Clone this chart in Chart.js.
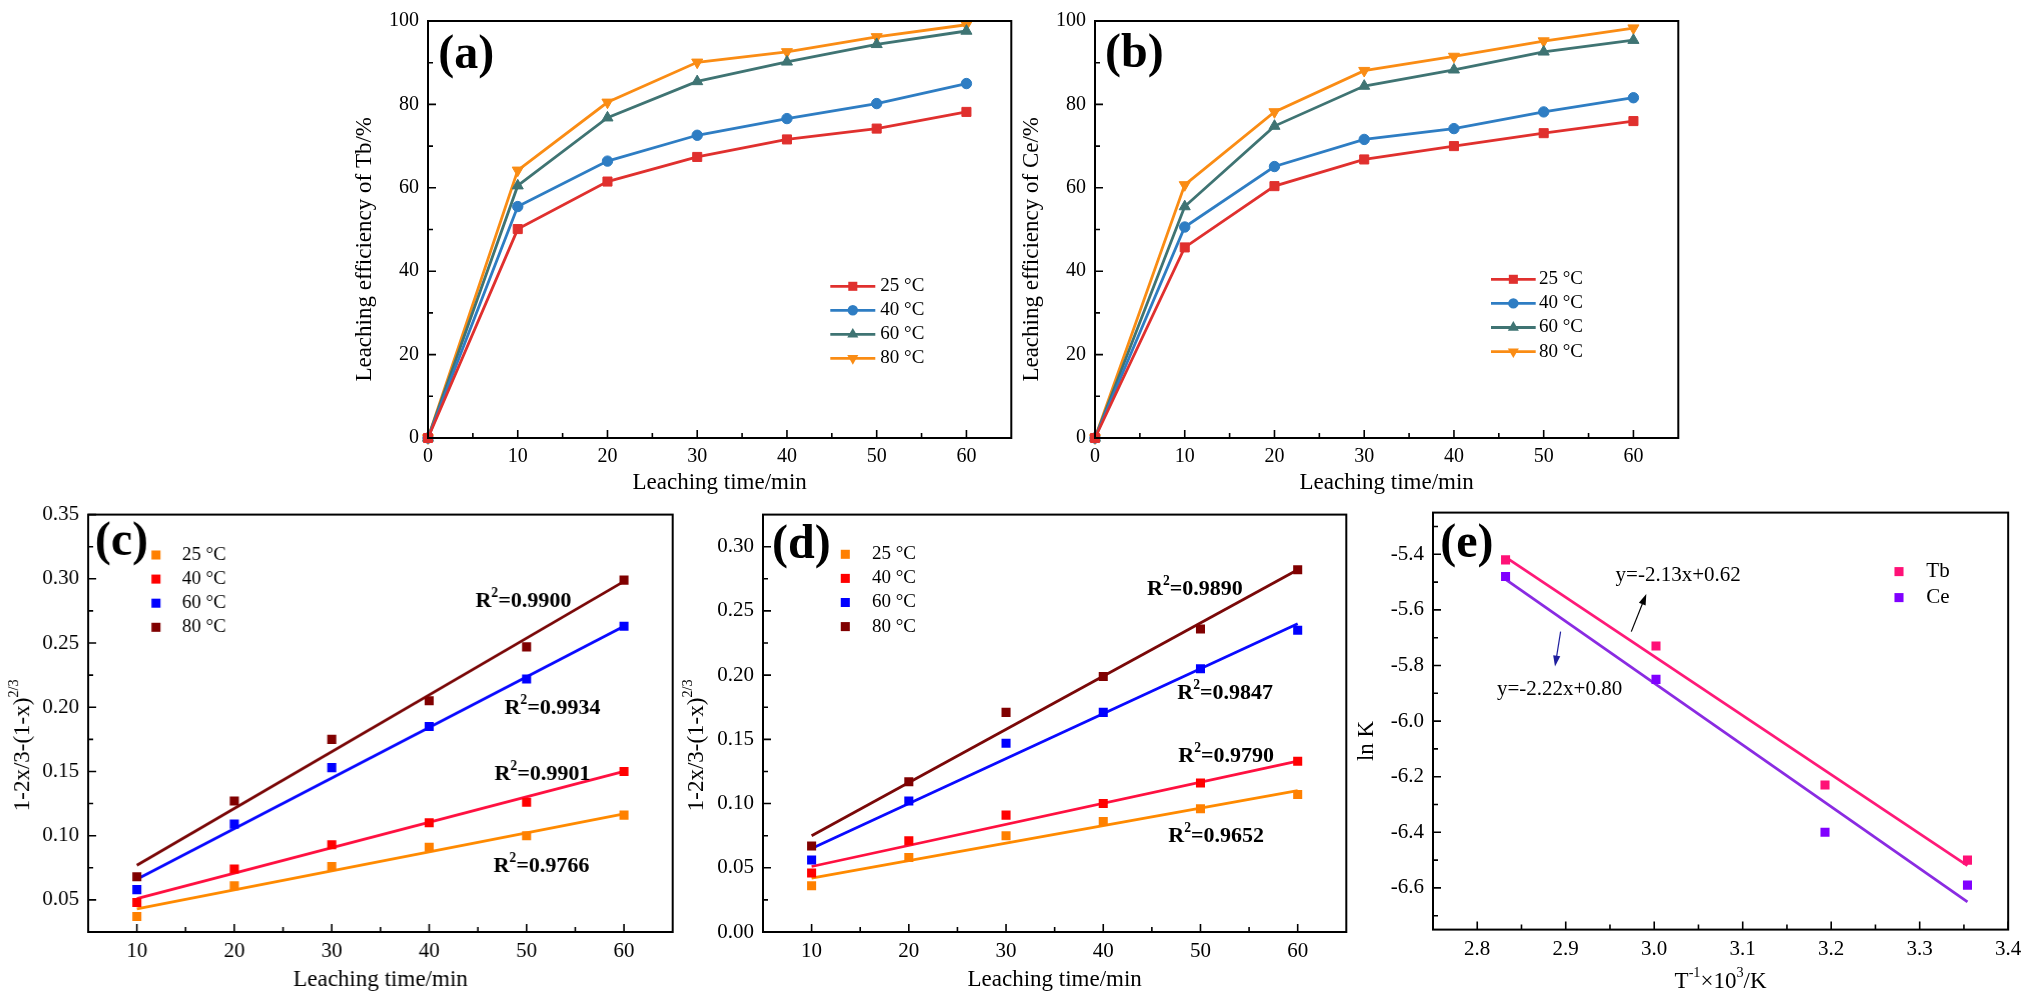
<!DOCTYPE html>
<html>
<head>
<meta charset="utf-8">
<title>Leaching of Tb and Ce</title>
<script src="https://cdn.jsdelivr.net/npm/chart.js@4.4.1/dist/chart.umd.min.js"></script>
<style>
  html, body { margin: 0; padding: 0; background: #fff; }
  body { position: relative; width: 2032px; height: 999px; overflow: hidden; }
  .panel { position: absolute; }
</style>
</head>
<body>
<div class="panel"><canvas id="chartA"></canvas></div>
<div class="panel"><canvas id="chartB"></canvas></div>
<div class="panel"><canvas id="chartC"></canvas></div>
<div class="panel"><canvas id="chartD"></canvas></div>
<div class="panel"><canvas id="chartE"></canvas></div>
<script>
// leaching efficiency vs time (a: Tb, b: Ce)
var leachTime = [0, 10, 20, 30, 40, 50, 60];
var tbEff25 = [0, 50.1, 61.5, 67.4, 71.6, 74.2, 78.2];
var tbEff40 = [0, 55.5, 66.4, 72.6, 76.6, 80.2, 85.0];
var tbEff60 = [0, 60.5, 76.8, 85.5, 90.2, 94.4, 97.6];
var tbEff80 = [0, 64.2, 80.5, 90.1, 92.6, 96.2, 99.1];
var ceEff25 = [0, 45.7, 60.4, 66.8, 70.0, 73.1, 76.0];
var ceEff40 = [0, 50.6, 65.1, 71.6, 74.2, 78.2, 81.6];
var ceEff60 = [0, 55.5, 74.8, 84.4, 88.3, 92.6, 95.4];
var ceEff80 = [0, 60.7, 78.2, 88.1, 91.5, 95.2, 98.3];

// kinetic model 1-2x/3-(1-x)^(2/3) (c: Tb, d: Ce)
var kinTime = [10, 20, 30, 40, 50, 60];
var tbKin25 = [0.037, 0.061, 0.076, 0.091, 0.100, 0.116];
var tbKin40 = [0.048, 0.074, 0.093, 0.110, 0.126, 0.150];
var tbKin60 = [0.058, 0.109, 0.153, 0.185, 0.222, 0.263];
var tbKin80 = [0.068, 0.127, 0.175, 0.205, 0.247, 0.299];
var ceKin25 = [0.036, 0.058, 0.075, 0.086, 0.096, 0.107];
var ceKin40 = [0.046, 0.071, 0.091, 0.100, 0.116, 0.133];
var ceKin60 = [0.056, 0.102, 0.147, 0.171, 0.205, 0.235];
var ceKin80 = [0.067, 0.117, 0.171, 0.199, 0.236, 0.282];

// fitted lines, read at t = 10 and t = 60
var fitTime = [10, 60];
var tbFit25 = [0.043, 0.117];
var tbFit40 = [0.051, 0.150];
var tbFit60 = [0.066, 0.263];
var tbFit80 = [0.077, 0.298];
var ceFit25 = [0.042, 0.110];
var ceFit40 = [0.051, 0.133];
var ceFit60 = [0.065, 0.240];
var ceFit80 = [0.075, 0.282];

// Arrhenius plot (e)
var invTemp = [2.832, 3.002, 3.193, 3.354];
var lnKTb = [-5.42, -5.73, -6.23, -6.50];
var lnKCe = [-5.48, -5.85, -6.40, -6.59];
var fitInvTemp = [2.832, 3.354];
var lnKTbFit = [-5.41, -6.52];
var lnKCeFit = [-5.49, -6.65];

var tempLabels = ['25 °C', '40 °C', '60 °C', '80 °C'];
var elementLabels = ['Tb', 'Ce'];
var r2Tb = ['0.9766', '0.9901', '0.9934', '0.9900'];
var r2Ce = ['0.9652', '0.9790', '0.9847', '0.9890'];
var eqTb = 'y=-2.13x+0.62';
var eqCe = 'y=-2.22x+0.80';

// tick labels
var timeTicks = [0, 10, 20, 30, 40, 50, 60];
var timeMinor = [5, 15, 25, 35, 45, 55];
var effTicks = [0, 20, 40, 60, 80, 100];
var effMinor = [10, 30, 50, 70, 90];
var kinTimeTicks = [10, 20, 30, 40, 50, 60];
var kinTimeMinor = [15, 25, 35, 45, 55];
var tbKinTicks = [0.05, 0.10, 0.15, 0.20, 0.25, 0.30, 0.35];
var tbKinMinor = [0.075, 0.125, 0.175, 0.225, 0.275, 0.325];
var ceKinTicks = [0, 0.05, 0.10, 0.15, 0.20, 0.25, 0.30];
var ceKinMinor = [0.025, 0.075, 0.125, 0.175, 0.225, 0.275];
var invTTicks = [2.8, 2.9, 3.0, 3.1, 3.2, 3.3, 3.4];
var invTMinor = [2.85, 2.95, 3.05, 3.15, 3.25, 3.35];
var lnKTicks = [-5.4, -5.6, -5.8, -6.0, -6.2, -6.4, -6.6];
var lnKMinor = [-5.3, -5.5, -5.7, -5.9, -6.1, -6.3, -6.5, -6.7];

var FONT = '"Liberation Serif", "Times New Roman", serif';
var Y_W = 120, X_H = 66, PAD_T = 12, PAD_R = 12;

var topColors = ['#E0302E', '#2E7DC3', '#3F7473', '#FA8C14'];
var topShapes = [['rect', 0, 6.4], ['circle', 0, 5.2], ['triangle', 0, 6.4], ['triangle', 180, 6.4]];
var kinColors = ['#FF8000', '#FF0000', '#0000FF', '#800000'];
var kinLineColors = ['#FF8A00', '#FF1040', '#0A0AFF', '#7A0808'];

function f(size, bold) { return (bold ? 'bold ' : '') + size + 'px ' + FONT; }

function pts(xs, ys) {
    return xs.map(function (x, i) { return { x: x, y: ys[i] }; });
}

function curveSet(label, ys, color, shape) {
    return {
        label: label, data: pts(leachTime, ys), showLine: true, clip: false,
        borderColor: color, borderWidth: 2.8,
        pointStyle: shape[0], pointRotation: shape[1], pointRadius: shape[2],
        pointBackgroundColor: color, pointBorderColor: color, pointBorderWidth: 1
    };
}

function markSet(label, xs, ys, color) {
    return {
        label: label, data: pts(xs, ys), showLine: false, order: 0,
        pointStyle: 'rect', pointRadius: 6.4,
        pointBackgroundColor: color, pointBorderColor: color, pointBorderWidth: 0
    };
}

function fitSet(xs, ys, color) {
    return { isFit: true, data: pts(xs, ys), showLine: true, order: 1, borderColor: color, borderWidth: 2.8, pointRadius: 0 };
}

function r2Runs(v) { return [{ t: 'R' }, { t: '2', sup: true }, { t: '=' + v }]; }

// chart areas in page pixels plus decoration
var panels = {
    chartA: {
        l: 427.7, t: 11.7, r: 1011, b: 437.7, letter: '(a)', letterAt: [10.3, 34.8],
        xMajor: timeTicks, xMinor: timeMinor, yMajor: effTicks, yMinor: effMinor,
        xTitle: [{ t: 'Leaching time/min' }], xTitleDy: 45,
        yTitle: [{ t: 'Leaching efficiency of Tb/%' }], yTitleAt: [-62.7, 228.3],
        legend: { line: true, x1: 402.3, x2: 447.3, tx: 452.3, y0: 265.3, dy: 24, size: 19 }
    },
    chartB: {
        l: 1095, t: 11.7, r: 1678.3, b: 437.7, letter: '(b)', letterAt: [10, 33.3],
        xMajor: timeTicks, xMinor: timeMinor, yMajor: effTicks, yMinor: effMinor,
        xTitle: [{ t: 'Leaching time/min' }], xTitleDy: 45,
        yTitle: [{ t: 'Leaching efficiency of Ce/%' }], yTitleAt: [-63.3, 228.3],
        legend: { line: true, x1: 396, x2: 440.7, tx: 444, y0: 258.3, dy: 24.1, size: 19 }
    },
    chartC: {
        l: 88.3, t: 505.3, r: 672, b: 932.3, letter: '(c)', letterAt: [6.7, 28],
        xMajor: kinTimeTicks, xMinor: kinTimeMinor, yMajor: tbKinTicks, yMinor: tbKinMinor,
        xTitle: [{ t: 'Leaching time/min' }], xTitleDy: 48,
        yTitle: [{ t: '1-2x/3-(1-x)' }, { t: '2/3', sup: true }], yTitleAt: [-65, 230.7],
        legend: { line: false, mx: 67.7, tx: 93.7, y0: 40.4, dy: 24.1, size: 19 },
        notes: [
            { runs: r2Runs(r2Tb[3]), at: [386.7, 86.7] },
            { runs: r2Runs(r2Tb[2]), at: [415.7, 193.3] },
            { runs: r2Runs(r2Tb[1]), at: [405.7, 259.3] },
            { runs: r2Runs(r2Tb[0]), at: [404.7, 351.7] }
        ]
    },
    chartD: {
        l: 762.7, t: 505.3, r: 1346, b: 932.3, letter: '(d)', letterAt: [9, 31.2],
        xMajor: kinTimeTicks, xMinor: kinTimeMinor, yMajor: ceKinTicks, yMinor: ceKinMinor,
        xTitle: [{ t: 'Leaching time/min' }], xTitleDy: 48,
        yTitle: [{ t: '1-2x/3-(1-x)' }, { t: '2/3', sup: true }], yTitleAt: [-66, 230.7],
        legend: { line: false, mx: 82.3, tx: 109, y0: 39.7, dy: 24.1, size: 19 },
        notes: [
            { runs: r2Runs(r2Ce[3]), at: [384, 74.7] },
            { runs: r2Runs(r2Ce[2]), at: [414.3, 178.7] },
            { runs: r2Runs(r2Ce[1]), at: [415.3, 241.4] },
            { runs: r2Runs(r2Ce[0]), at: [405.3, 321.4] }
        ]
    },
    chartE: {
        l: 1432.7, t: 502.7, r: 2016, b: 929.3, letter: '(e)', letterAt: [7.3, 32.3],
        xMajor: invTTicks, xMinor: invTMinor, yMajor: lnKTicks, yMinor: lnKMinor,
        xTitle: [{ t: 'T' }, { t: '-1', sup: true }, { t: '×10' }, { t: '3', sup: true }, { t: '/K' }], xTitleDy: 52,
        yTitle: [{ t: 'ln K' }], yTitleAt: [-66, 228.3],
        legend: { line: false, mx: 466, tx: 493.3, y0: 59, dy: 26, size: 21 },
        notes: [
            { runs: [{ t: eqTb }], at: [182.6, 63.3], plain: true },
            { runs: [{ t: eqCe }], at: [64, 177.3], plain: true }
        ],
        arrows: [
            { from: [198.3, 119], to: [213.3, 81.3], color: '#000000' },
            { from: [127.6, 119], to: [122, 154], color: '#1E1E9E' }
        ]
    }
};

function drawRuns(ctx, runs, x, y, size, bold, align) {
    var w = 0;
    runs.forEach(function (r) {
        ctx.font = f(r.sup ? size * 0.62 : size, bold);
        w += ctx.measureText(r.t).width;
    });
    var cx = align === 'center' ? x - w / 2 : x;
    ctx.textAlign = 'left';
    ctx.textBaseline = 'middle';
    runs.forEach(function (r) {
        ctx.font = f(r.sup ? size * 0.62 : size, bold);
        ctx.fillText(r.t, cx, r.sup ? y - size * 0.36 : y);
        cx += ctx.measureText(r.t).width;
    });
}

function marker(ctx, style, rot, r, x, y, color) {
    ctx.fillStyle = color;
    ctx.beginPath();
    if (style === 'circle') {
        ctx.arc(x, y, r, 0, Math.PI * 2);
    } else if (style === 'triangle') {
        var rad = rot * Math.PI / 180;
        for (var k = 0; k < 3; k++) {
            var px = x + Math.sin(rad) * r, py = y - Math.cos(rad) * r;
            if (k === 0) ctx.moveTo(px, py); else ctx.lineTo(px, py);
            rad += Math.PI * 2 / 3;
        }
        ctx.closePath();
    } else {
        var s = Math.SQRT1_2 * r;
        ctx.rect(x - s, y - s, 2 * s, 2 * s);
    }
    ctx.fill();
}

function arrow(ctx, x1, y1, x2, y2, color) {
    var ang = Math.atan2(y2 - y1, x2 - x1), L = 11, W = 3.6;
    ctx.strokeStyle = color;
    ctx.fillStyle = color;
    ctx.lineWidth = 1.2;
    ctx.beginPath();
    ctx.moveTo(x1, y1);
    ctx.lineTo(x2 - 6 * Math.cos(ang), y2 - 6 * Math.sin(ang));
    ctx.stroke();
    ctx.beginPath();
    ctx.moveTo(x2, y2);
    ctx.lineTo(x2 - L * Math.cos(ang) + W * Math.sin(ang), y2 - L * Math.sin(ang) - W * Math.cos(ang));
    ctx.lineTo(x2 - L * Math.cos(ang) - W * Math.sin(ang), y2 - L * Math.sin(ang) + W * Math.cos(ang));
    ctx.closePath();
    ctx.fill();
}

// inward ticks, frame, titles, legend and labels
var deco = {
    id: 'deco',
    afterDraw: function (chart) {
        var p = panels[chart.canvas.id];
        var ctx = chart.ctx, a = chart.chartArea, sx = chart.scales.x, sy = chart.scales.y;
        ctx.save();
        ctx.strokeStyle = '#000';
        ctx.lineWidth = 1.6;
        ctx.beginPath();
        function tx(v, len) { var x = sx.getPixelForValue(v); ctx.moveTo(x, a.bottom); ctx.lineTo(x, a.bottom - len); }
        function ty(v, len) { var y = sy.getPixelForValue(v); ctx.moveTo(a.left, y); ctx.lineTo(a.left + len, y); }
        p.xMajor.forEach(function (v) { tx(v, 8); });
        p.xMinor.forEach(function (v) { tx(v, 5); });
        p.yMajor.forEach(function (v) { ty(v, 8); });
        p.yMinor.forEach(function (v) { ty(v, 5); });
        ctx.stroke();
        ctx.lineWidth = 2;
        ctx.strokeRect(a.left, a.top, a.right - a.left, a.bottom - a.top);

        ctx.fillStyle = '#000';
        drawRuns(ctx, p.xTitle, (a.left + a.right) / 2, a.bottom + p.xTitleDy, 23, false, 'center');
        ctx.save();
        ctx.translate(a.left + p.yTitleAt[0], a.top + p.yTitleAt[1]);
        ctx.rotate(-Math.PI / 2);
        drawRuns(ctx, p.yTitle, 0, 0, 23, false, 'center');
        ctx.restore();

        ctx.font = f(48, true);
        ctx.textAlign = 'left';
        ctx.textBaseline = 'middle';
        ctx.fillText(p.letter, a.left + p.letterAt[0], a.top + p.letterAt[1]);

        var lg = p.legend;
        chart.data.datasets.filter(function (ds) { return !ds.isFit; }).forEach(function (ds, i) {
            var y = a.top + lg.y0 + i * lg.dy;
            var mx = lg.line ? (lg.x1 + lg.x2) / 2 : lg.mx;
            if (lg.line) {
                ctx.strokeStyle = ds.borderColor;
                ctx.lineWidth = 2.8;
                ctx.beginPath();
                ctx.moveTo(a.left + lg.x1, y);
                ctx.lineTo(a.left + lg.x2, y);
                ctx.stroke();
            }
            marker(ctx, ds.pointStyle, ds.pointRotation || 0, ds.pointRadius, a.left + mx, y, ds.pointBackgroundColor);
            ctx.fillStyle = '#000';
            ctx.font = f(lg.size);
            ctx.textAlign = 'left';
            ctx.textBaseline = 'middle';
            ctx.fillText(ds.label, a.left + lg.tx, y);
        });

        (p.notes || []).forEach(function (n) {
            ctx.fillStyle = '#000';
            drawRuns(ctx, n.runs, a.left + n.at[0], a.top + n.at[1], n.plain ? 21 : 22, !n.plain, 'left');
        });
        (p.arrows || []).forEach(function (ar) {
            arrow(ctx, a.left + ar.from[0], a.top + ar.from[1], a.left + ar.to[0], a.top + ar.to[1], ar.color);
        });
        ctx.restore();
    }
};

function axis(min, max, major, dec, size, horiz) {
    return {
        type: 'linear', min: min, max: max,
        afterBuildTicks: function (s) { s.ticks = major.map(function (v) { return { value: v }; }); },
        afterFit: function (s) { if (horiz) { s.height = X_H; } else { s.width = Y_W; } },
        grid: { display: false, drawTicks: false },
        border: { display: false },
        ticks: {
            autoSkip: false, maxRotation: 0, padding: horiz ? 7 : 9, color: '#000',
            font: { family: FONT, size: size },
            callback: function (v) { return dec < 0 ? String(v) : Number(v).toFixed(dec); }
        }
    };
}

function buildPanel(id, datasets, xs, ys) {
    var p = panels[id];
    var canvas = document.getElementById(id);
    var wrap = canvas.parentNode;
    wrap.style.left = (p.l - Y_W) + 'px';
    wrap.style.top = (p.t - PAD_T) + 'px';
    wrap.style.width = (p.r - p.l + Y_W + PAD_R) + 'px';
    wrap.style.height = (p.b - p.t + PAD_T + X_H) + 'px';
    return new Chart(canvas, {
        type: 'scatter',
        data: { datasets: datasets },
        options: {
            animation: false, responsive: true, maintainAspectRatio: false, events: [],
            layout: { padding: { left: 0, top: PAD_T, right: PAD_R, bottom: 0 } },
            plugins: { legend: { display: false }, tooltip: { enabled: false } },
            scales: { x: xs, y: ys }
        },
        plugins: [deco]
    });
}

var tbEff = [tbEff25, tbEff40, tbEff60, tbEff80];
var ceEff = [ceEff25, ceEff40, ceEff60, ceEff80];
var tbKin = [tbKin25, tbKin40, tbKin60, tbKin80];
var ceKin = [ceKin25, ceKin40, ceKin60, ceKin80];
var tbFit = [tbFit25, tbFit40, tbFit60, tbFit80];
var ceFit = [ceFit25, ceFit40, ceFit60, ceFit80];

buildPanel('chartA',
    tempLabels.map(function (lb, i) { return curveSet(lb, tbEff[i], topColors[i], topShapes[i]); }),
    axis(0, 65, timeTicks, -1, 20, true), axis(0, 100, effTicks, -1, 20, false));

buildPanel('chartB',
    tempLabels.map(function (lb, i) { return curveSet(lb, ceEff[i], topColors[i], topShapes[i]); }),
    axis(0, 65, timeTicks, -1, 20, true), axis(0, 100, effTicks, -1, 20, false));

buildPanel('chartC',
    tempLabels.map(function (lb, i) { return markSet(lb, kinTime, tbKin[i], kinColors[i]); })
        .concat(tbFit.map(function (v, i) { return fitSet(fitTime, v, kinLineColors[i]); })),
    axis(5, 65, kinTimeTicks, -1, 21, true), axis(0.025, 0.35, tbKinTicks, 2, 21, false));

buildPanel('chartD',
    tempLabels.map(function (lb, i) { return markSet(lb, kinTime, ceKin[i], kinColors[i]); })
        .concat(ceFit.map(function (v, i) { return fitSet(fitTime, v, kinLineColors[i]); })),
    axis(5, 65, kinTimeTicks, -1, 21, true), axis(0, 0.325, ceKinTicks, 2, 21, false));

buildPanel('chartE', [
        markSet(elementLabels[0], invTemp, lnKTb, '#FF1177'),
        markSet(elementLabels[1], invTemp, lnKCe, '#8000FF'),
        fitSet(fitInvTemp, lnKTbFit, '#FF1A78'),
        fitSet(fitInvTemp, lnKCeFit, '#8A2BE2')
    ],
    axis(2.75, 3.4, invTTicks, 1, 21, true), axis(-6.75, -5.25, lnKTicks, 1, 21, false));
</script>
</body>
</html>
